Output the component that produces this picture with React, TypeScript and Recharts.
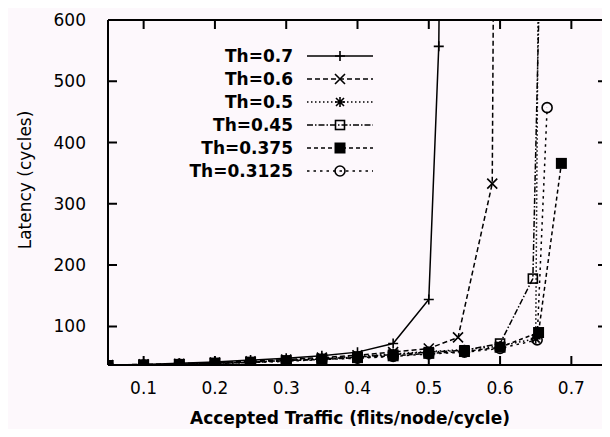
import { LineChart, Line, XAxis, YAxis, Label, ReferenceLine } from 'recharts'

const xTicks = [0.1, 0.2, 0.3, 0.4, 0.5, 0.6, 0.7]
const yTicks = [100, 200, 300, 400, 500, 600]

const th07X = [0.05, 0.1, 0.15, 0.2, 0.25, 0.3, 0.35, 0.4, 0.45, 0.5, 0.514, 0.517]
const th07Y = [37, 38, 40, 42, 45, 48, 52, 58, 72, 144, 557, 900]

const th06X = [0.05, 0.1, 0.15, 0.2, 0.25, 0.3, 0.35, 0.4, 0.45, 0.5, 0.541, 0.589, 0.592]
const th06Y = [37, 38, 39, 41, 43, 46, 49, 53, 58, 64, 82, 333, 900]

const th05X = [0.05, 0.1, 0.15, 0.2, 0.25, 0.3, 0.35, 0.4, 0.45, 0.5, 0.55, 0.6, 0.65, 0.655]
const th05Y = [36, 37, 39, 40, 42, 45, 48, 51, 55, 59, 62, 68, 80, 900]

const th045X = [0.05, 0.1, 0.15, 0.2, 0.25, 0.3, 0.35, 0.4, 0.45, 0.5, 0.55, 0.6, 0.646, 0.66]
const th045Y = [36, 37, 38, 40, 42, 44, 47, 50, 54, 58, 61, 72, 178, 900]

const th0375X = [0.05, 0.1, 0.15, 0.2, 0.25, 0.3, 0.35, 0.4, 0.45, 0.5, 0.55, 0.6, 0.654, 0.686]
const th0375Y = [36, 37, 38, 40, 41, 44, 46, 49, 52, 56, 59, 66, 90, 366]

const th03125X = [0.05, 0.1, 0.15, 0.2, 0.25, 0.3, 0.35, 0.4, 0.45, 0.5, 0.55, 0.6, 0.652, 0.666]
const th03125Y = [36, 37, 38, 39, 41, 43, 46, 48, 51, 55, 58, 64, 78, 457]

const zip = (xs: number[], ys: number[]) => xs.map((x, i) => ({ x, y: ys[i] }))

type Shape = 'plus' | 'cross' | 'star' | 'box' | 'fbox' | 'circle'

const series: { name: string; data: { x: number; y: number }[]; dash: string; shape: Shape }[] = [
  { name: 'Th=0.7', data: zip(th07X, th07Y), dash: '', shape: 'plus' },
  { name: 'Th=0.6', data: zip(th06X, th06Y), dash: '5 3', shape: 'cross' },
  { name: 'Th=0.5', data: zip(th05X, th05Y), dash: '1.5 2.5', shape: 'star' },
  { name: 'Th=0.45', data: zip(th045X, th045Y), dash: '6 2 1.5 2', shape: 'box' },
  { name: 'Th=0.375', data: zip(th0375X, th0375Y), dash: '4 3', shape: 'fbox' },
  { name: 'Th=0.3125', data: zip(th03125X, th03125Y), dash: '2.5 4', shape: 'circle' },
]

const FONT = '"DejaVu Sans", sans-serif'
const FS = 17

function Marker({ shape, cx, cy }: { shape: Shape; cx: number; cy: number }) {
  const s = 5
  const st = { stroke: '#000', strokeWidth: 1.6, fill: 'none' }
  if (shape === 'plus')
    return <path d={`M${cx - s},${cy}H${cx + s}M${cx},${cy - s}V${cy + s}`} {...st} />
  if (shape === 'cross')
    return <path d={`M${cx - s},${cy - s}L${cx + s},${cy + s}M${cx - s},${cy + s}L${cx + s},${cy - s}`} {...st} />
  if (shape === 'star')
    return (
      <path
        d={`M${cx - s},${cy}H${cx + s}M${cx},${cy - s}V${cy + s}M${cx - 4},${cy - 4}L${cx + 4},${cy + 4}M${cx - 4},${cy + 4}L${cx + 4},${cy - 4}`}
        {...st}
      />
    )
  if (shape === 'box') return <rect x={cx - 4.5} y={cy - 4.5} width={9} height={9} {...st} />
  if (shape === 'fbox') return <rect x={cx - 5.5} y={cy - 5.5} width={11} height={11} fill="#000" />
  return <circle cx={cx} cy={cy} r={5} {...st} />
}

const dotFor = (shape: Shape) => (p: any) => {
  if (p.value > 600 || p.cx == null) return <g key={p.index} />
  return (
    <g key={p.index}>
      <Marker shape={shape} cx={p.cx} cy={p.cy} />
    </g>
  )
}

// tick label plus a 10px inward tick mark at the axis line, and its mirror on the opposite side of the box
const tickBottom = (p: any) => (
  <g>
    <path d={`M${p.x},${p.y}v-9M${p.x},20v9`} stroke="#000" strokeWidth={2} fill="none" />
    <text x={p.x} y={p.y + 29} textAnchor="middle" fontSize={FS} fontFamily={FONT} fill="#000">
      {p.payload.value}
    </text>
  </g>
)
const tickLeft = (p: any) => (
  <g>
    <path d={`M${p.x},${p.y}h9M607,${p.y}h-9`} stroke="#000" strokeWidth={2} fill="none" />
    <text x={p.x - 22} y={p.y + 6} textAnchor="end" fontSize={FS} fontFamily={FONT} fill="#000">
      {p.payload.value}
    </text>
  </g>
)

function LegendBox() {
  return (
    <svg width={220} height={140} style={{ position: 'absolute', left: 173, top: 44 }}>
      {series.map((s, i) => {
        const cy = 12 + i * 23
        return (
          <g key={s.name}>
            <text x={120} y={cy + 6} textAnchor="end" fontSize={FS} fontWeight="bold" fontFamily={FONT} fill="#000">
              {s.name}
            </text>
            <line x1={134} y1={cy} x2={200} y2={cy} stroke="#000" strokeWidth={1.5} strokeDasharray={s.dash} />
            <Marker shape={s.shape} cx={167} cy={cy} />
          </g>
        )
      })}
    </svg>
  )
}

export default function App() {
  return (
    <div style={{ margin: -8, width: 610, height: 437, background: '#fdf8fc', position: 'relative' }}>
      <LineChart width={610} height={437} margin={{ top: 20, right: 3, bottom: 0, left: 0 }}>
        <XAxis
          dataKey="x"
          type="number"
          domain={[0.05, 0.75]}
          ticks={xTicks}
          allowDataOverflow
          height={72}
          tickSize={0}
          tickMargin={0}
          tickLine={false}
          axisLine={{ stroke: '#000', strokeWidth: 2 }}
          tick={tickBottom}
        >
          <Label
            content={() => (
              <text x={350} y={424} textAnchor="middle" fontSize={FS} fontWeight="bold" fontFamily={FONT} fill="#000">
                Accepted Traffic (flits/node/cycle)
              </text>
            )}
          />
        </XAxis>
        <YAxis
          type="number"
          domain={[37, 600]}
          ticks={yTicks}
          allowDataOverflow
          width={108}
          tickSize={0}
          tickMargin={0}
          tickLine={false}
          axisLine={{ stroke: '#000', strokeWidth: 2 }}
          tick={tickLeft}
        >
          <Label
            content={() => (
              <text
                transform="translate(31,180) rotate(-90)"
                textAnchor="middle"
                fontSize={FS}
                fontFamily={FONT}
                fill="#000"
              >
                Latency (cycles)
              </text>
            )}
          />
        </YAxis>
        <ReferenceLine y={600} stroke="#000" strokeWidth={2} ifOverflow="visible" />
        <ReferenceLine x={0.75} stroke="#000" strokeWidth={2} ifOverflow="visible" />
        {series.map((s) => (
          <Line
            key={s.name}
            data={s.data}
            dataKey="y"
            name={s.name}
            stroke="#000"
            strokeWidth={1.5}
            strokeDasharray={s.dash}
            dot={dotFor(s.shape)}
            isAnimationActive={false}
          />
        ))}
      </LineChart>
      <LegendBox />
    </div>
  )
}
